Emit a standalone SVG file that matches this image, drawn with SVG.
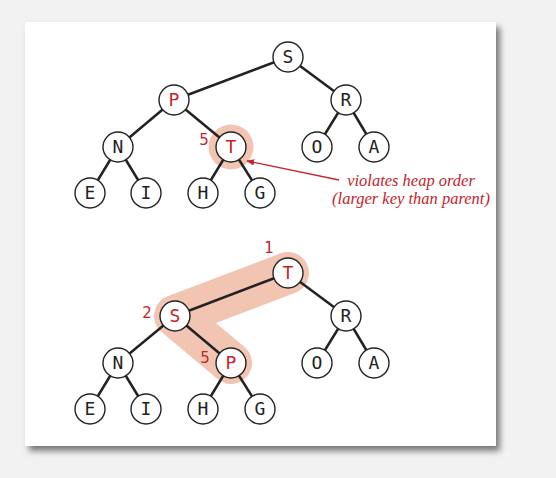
<svg xmlns="http://www.w3.org/2000/svg" width="556" height="478" viewBox="0 0 556 478">
<defs>
<filter id="sh" x="-10%" y="-10%" width="130%" height="130%"><feGaussianBlur stdDeviation="3"/></filter>
<marker id="ah" viewBox="0 0 10 10" refX="9" refY="5" markerWidth="8" markerHeight="8" markerUnits="userSpaceOnUse" orient="auto"><path d="M0,1 L10,5 L0,9 z" fill="#c0272d"/></marker>
</defs>
<style>
.e{stroke:#222;stroke-width:2.5;fill:none}
.n circle{fill:#fff;stroke:#222;stroke-width:1.4}
.n text{font-family:"DejaVu Sans Mono",monospace;font-size:18px;text-anchor:middle;fill:#222}
.n text.r{fill:#c4242a}
.lb{font-family:"DejaVu Sans",sans-serif;font-size:15px;fill:#c4242a;text-anchor:middle}
.note{font-family:"Liberation Serif",serif;font-style:italic;font-size:16.5px;fill:#c4242a;text-anchor:middle}
.halo{fill:#f2c5b3}
</style>
<rect width="556" height="478" fill="#f2f2f2"/>
<rect x="29" y="27" width="471" height="424" fill="#777" filter="url(#sh)"/>
<rect x="25" y="22" width="471" height="424" fill="#fff"/>

<circle class="halo" cx="231" cy="147" r="22.5"/>
<path d="M288,273 L175,316 L231,363" stroke="#f2c5b3" stroke-width="42" stroke-linecap="round" stroke-linejoin="round" fill="none"/>

<g id="connectors">
<line class="e" x1="288" y1="57" x2="174" y2="100"/>
<line class="e" x1="288" y1="57" x2="346" y2="100"/>
<line class="e" x1="174" y1="100" x2="118" y2="147"/>
<line class="e" x1="174" y1="100" x2="231" y2="147"/>
<line class="e" x1="346" y1="100" x2="317" y2="147"/>
<line class="e" x1="346" y1="100" x2="374" y2="147"/>
<line class="e" x1="118" y1="147" x2="90" y2="193"/>
<line class="e" x1="118" y1="147" x2="146" y2="193"/>
<line class="e" x1="231" y1="147" x2="203" y2="193"/>
<line class="e" x1="231" y1="147" x2="260" y2="193"/>

<line class="e" x1="288" y1="273" x2="175" y2="316"/>
<line class="e" x1="288" y1="273" x2="346" y2="316"/>
<line class="e" x1="175" y1="316" x2="118" y2="363"/>
<line class="e" x1="175" y1="316" x2="231" y2="363"/>
<line class="e" x1="346" y1="316" x2="317" y2="363"/>
<line class="e" x1="346" y1="316" x2="374" y2="363"/>
<line class="e" x1="118" y1="363" x2="90" y2="409"/>
<line class="e" x1="118" y1="363" x2="146" y2="409"/>
<line class="e" x1="231" y1="363" x2="203" y2="409"/>
<line class="e" x1="231" y1="363" x2="260" y2="409"/>

<line x1="339" y1="180" x2="247" y2="161" stroke="#c4242a" stroke-width="1.3" marker-end="url(#ah)"/>
</g>

<g id="t1-S" class="n"><circle cx="288" cy="57" r="15"/><text x="288" y="63">S</text></g>
<g id="t1-P" class="n"><circle cx="174" cy="100" r="15"/><text class="r" x="174" y="106">P</text></g>
<g id="t1-R" class="n"><circle cx="346" cy="100" r="15"/><text x="346" y="106">R</text></g>
<g id="t1-N" class="n"><circle cx="118" cy="147" r="15"/><text x="118" y="153">N</text></g>
<g id="t1-T" class="n"><circle cx="231" cy="147" r="15"/><text class="r" x="231" y="153">T</text></g>
<g id="t1-O" class="n"><circle cx="317" cy="147" r="15"/><text x="317" y="153">O</text></g>
<g id="t1-A" class="n"><circle cx="374" cy="147" r="15"/><text x="374" y="153">A</text></g>
<g id="t1-E" class="n"><circle cx="90" cy="193" r="15"/><text x="90" y="199">E</text></g>
<g id="t1-I" class="n"><circle cx="146" cy="193" r="15"/><text x="146" y="199">I</text></g>
<g id="t1-H" class="n"><circle cx="203" cy="193" r="15"/><text x="203" y="199">H</text></g>
<g id="t1-G" class="n"><circle cx="260" cy="193" r="15"/><text x="260" y="199">G</text></g>

<g id="t2-T" class="n"><circle cx="288" cy="273" r="15"/><text class="r" x="288" y="279">T</text></g>
<g id="t2-S" class="n"><circle cx="175" cy="316" r="15"/><text class="r" x="175" y="322">S</text></g>
<g id="t2-R" class="n"><circle cx="346" cy="316" r="15"/><text x="346" y="322">R</text></g>
<g id="t2-N" class="n"><circle cx="118" cy="363" r="15"/><text x="118" y="369">N</text></g>
<g id="t2-P" class="n"><circle cx="231" cy="363" r="15"/><text class="r" x="231" y="369">P</text></g>
<g id="t2-O" class="n"><circle cx="317" cy="363" r="15"/><text x="317" y="369">O</text></g>
<g id="t2-A" class="n"><circle cx="374" cy="363" r="15"/><text x="374" y="369">A</text></g>
<g id="t2-E" class="n"><circle cx="90" cy="409" r="15"/><text x="90" y="415">E</text></g>
<g id="t2-I" class="n"><circle cx="146" cy="409" r="15"/><text x="146" y="415">I</text></g>
<g id="t2-H" class="n"><circle cx="203" cy="409" r="15"/><text x="203" y="415">H</text></g>
<g id="t2-G" class="n"><circle cx="260" cy="409" r="15"/><text x="260" y="415">G</text></g>

<text class="lb" x="204" y="145">5</text>
<text class="lb" x="269" y="253">1</text>
<text class="lb" x="147" y="318">2</text>
<text class="lb" x="205" y="363">5</text>

<text class="note" x="411" y="186">violates heap order</text>
<text class="note" x="411" y="204">(larger key than parent)</text>
</svg>
